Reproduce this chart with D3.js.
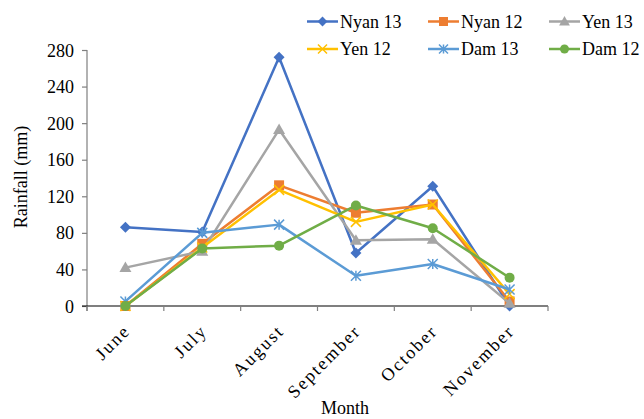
<!DOCTYPE html>
<html>
<head>
<meta charset="utf-8">
<script src="https://cdn.jsdelivr.net/npm/d3@7"></script>
<style>
  body { margin: 0; background: #fff; }
  svg text { font-family: "Liberation Serif", "Times New Roman", serif; fill: #000; }
</style>
</head>
<body>
<div id="chart"></div>
<script>
// Monthly rainfall (mm) by site and year
const months = ["June", "July", "August", "September", "October", "November"];
const yTicks = [0, 40, 80, 120, 160, 200, 240, 280];

const nyan13 = [86, 81, 272, 58, 131, 0];
const nyan12 = [0, 68, 132, 102, 111, 5];
const yen13  = [42, 60, 193, 72, 73, 3];
const yen12  = [0, 64, 127, 92, 111, 13];
const dam13  = [5, 80, 89, 33, 46, 18];
const dam12  = [0, 63, 66, 110, 85, 31];

const seriesNames = ["Nyan 13", "Nyan 12", "Yen 13", "Yen 12", "Dam 13", "Dam 12"];
const seriesValues = [nyan13, nyan12, yen13, yen12, dam13, dam12];
const seriesColors = ["#4472C4", "#ED7D31", "#A5A5A5", "#FFC000", "#5B9BD5", "#70AD47"];
const seriesMarkers = ["diamond", "square", "triangle", "x", "asterisk", "circle"];

const W = 644, H = 419;
const margin = { left: 87, right: 96, top: 50, bottom: 113 };
const FONT = "Liberation Serif, Times New Roman, serif";

const svg = d3.select("#chart").append("svg")
  .attr("width", W).attr("height", H)
  .attr("font-family", FONT);

const x = d3.scaleBand().domain(months)
  .range([margin.left, W - margin.right]);
const y = d3.scaleLinear().domain([0, 280])
  .range([H - margin.bottom, margin.top]);

// Y axis
const yAxis = svg.append("g")
  .attr("transform", `translate(${margin.left},0)`)
  .call(d3.axisLeft(y).tickValues(yTicks).tickSize(5).tickSizeOuter(0))
  .attr("font-family", FONT);
yAxis.select(".domain").attr("stroke", "#7f7f7f").attr("stroke-width", 1.2)
  .attr("d", `M0,${y(280)}V${y(0) + 5}`);
yAxis.selectAll(".tick line").attr("stroke", "#7f7f7f").attr("stroke-width", 1.2);
yAxis.selectAll(".tick text")
  .attr("font-size", 18).attr("x", -13).attr("dy", "0.34em");

// X axis: ticks at category boundaries
const xAxisG = svg.append("g").attr("transform", `translate(0,${y(0)})`);
xAxisG.append("line")
  .attr("x1", margin.left - 5).attr("x2", W - margin.right)
  .attr("stroke", "#000").attr("stroke-width", 1.2);
const bounds = months.map(m => x(m)).concat([x(months[months.length - 1]) + x.bandwidth()]);
xAxisG.selectAll("line.tk").data(bounds).join("line")
  .attr("class", "tk")
  .attr("x1", d => d).attr("x2", d => d)
  .attr("y1", 0).attr("y2", 5)
  .attr("stroke", "#7f7f7f").attr("stroke-width", 1.2);
xAxisG.selectAll("text").data(months).join("text")
  .attr("text-anchor", "end")
  .attr("font-size", 18)
  .attr("letter-spacing", 2)
  .attr("transform", d => `translate(${x(d) + x.bandwidth() / 2 + 6},${26}) rotate(-45)`)
  .text(d => d);

// Axis titles
svg.append("text")
  .attr("x", 345)
  .attr("y", 414)
  .attr("text-anchor", "middle").attr("font-size", 18)
  .text("Month");
svg.append("text")
  .attr("transform", `translate(27,177) rotate(-90)`)
  .attr("text-anchor", "middle").attr("font-size", 18)
  .text("Rainfall (mm)");

// Marker drawing
function drawMarker(g, type, color, s) {
  switch (type) {
    case "diamond":
      g.append("path").attr("d", `M0,${-s * 0.55}L${s * 0.55},0L0,${s * 0.55}L${-s * 0.55},0Z`).attr("fill", color);
      break;
    case "square":
      g.append("rect").attr("x", -s / 2).attr("y", -s / 2).attr("width", s).attr("height", s).attr("fill", color);
      break;
    case "triangle":
      g.append("path").attr("d", `M0,${-s * 0.6}L${s * 0.6},${s * 0.45}L${-s * 0.6},${s * 0.45}Z`).attr("fill", color);
      break;
    case "x":
      g.append("path").attr("d", `M${-s / 2},${-s / 2}L${s / 2},${s / 2}M${s / 2},${-s / 2}L${-s / 2},${s / 2}`)
        .attr("stroke", color).attr("stroke-width", 1.5);
      break;
    case "asterisk":
      g.append("path").attr("d", `M${-s / 2},${-s / 2}L${s / 2},${s / 2}M${s / 2},${-s / 2}L${-s / 2},${s / 2}M0,${-s / 2}L0,${s / 2}`)
        .attr("stroke", color).attr("stroke-width", 1.5);
      break;
    case "circle":
      g.append("circle").attr("r", s / 2).attr("fill", color);
      break;
  }
}

const line = d3.line()
  .x((d, i) => x(months[i]) + x.bandwidth() / 2)
  .y(d => y(d));

seriesValues.forEach((vals, k) => {
  const g = svg.append("g");
  g.append("path").datum(vals)
    .attr("d", line)
    .attr("fill", "none")
    .attr("stroke", seriesColors[k])
    .attr("stroke-width", 2.5)
    .attr("stroke-linejoin", "round");
  vals.forEach((v, i) => {
    const mg = g.append("g")
      .attr("transform", `translate(${x(months[i]) + x.bandwidth() / 2},${y(v)})`);
    drawMarker(mg, seriesMarkers[k], seriesColors[k], 10);
  });
});

// Legend: two rows of three
const legendCols = [307, 428, 549];
const legendRows = [21.5, 49];
seriesNames.forEach((name, k) => {
  const lx = legendCols[k % 3], ly = legendRows[Math.floor(k / 3)];
  const g = svg.append("g");
  g.append("line")
    .attr("x1", lx).attr("x2", lx + 31).attr("y1", ly).attr("y2", ly)
    .attr("stroke", seriesColors[k]).attr("stroke-width", 2.5);
  const mg = g.append("g").attr("transform", `translate(${lx + 15.5},${ly})`);
  drawMarker(mg, seriesMarkers[k], seriesColors[k], 9);
  g.append("text")
    .attr("x", lx + 33).attr("y", ly + 6)
    .attr("font-size", 18)
    .text(name);
});
</script>
</body>
</html>
